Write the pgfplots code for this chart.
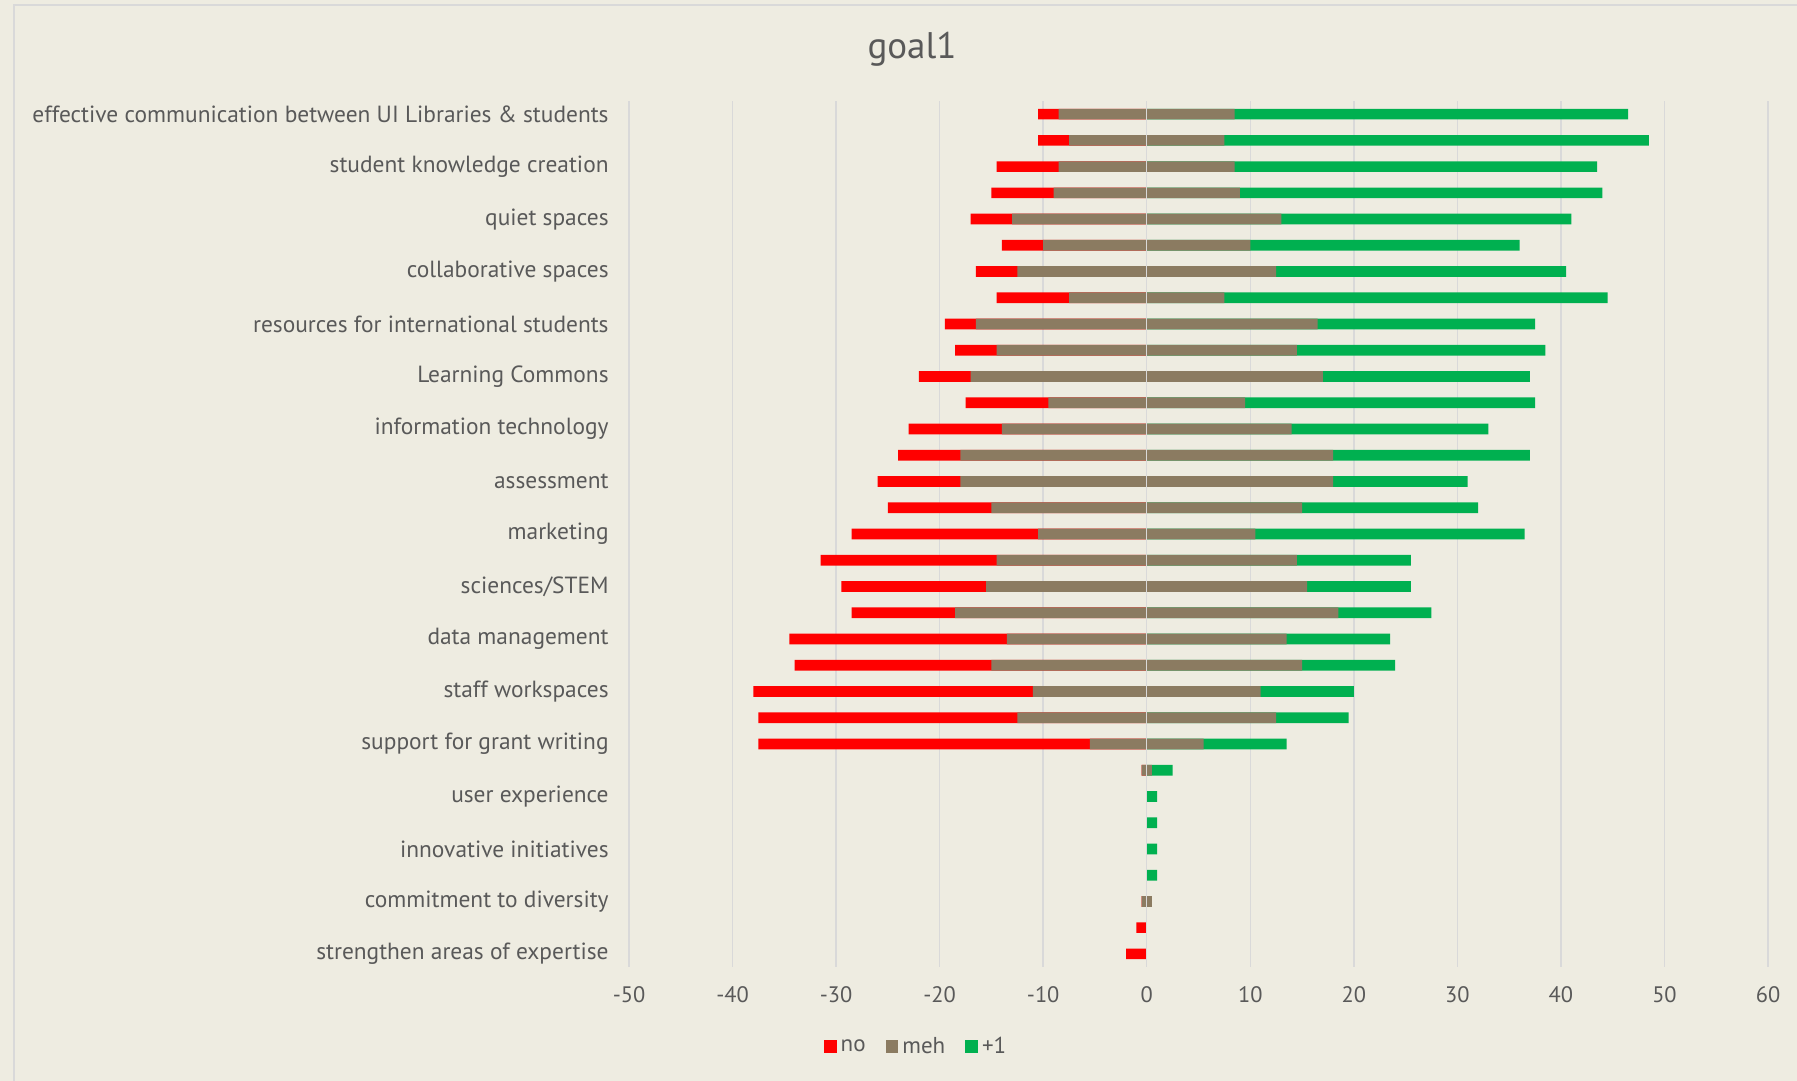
\documentclass[border=0pt]{standalone}
\usepackage{fontspec}
\setmainfont{PT Sans}
\usepackage{pgfplots}
\usepackage{pgfplotstable}
\pgfplotsset{compat=1.18}
\definecolor{bg}{HTML}{EEECE1}
\definecolor{gridc}{HTML}{D9D9D9}
\definecolor{txt}{HTML}{595959}
\definecolor{cno}{HTML}{FF0000}
\definecolor{cmeh}{HTML}{8B7B61}
\definecolor{cplus}{HTML}{00B050}
\pgfplotstableread{
row no meh plus
1 2 17 38
2 3 15 41
3 6 17 35
4 6 18 35
5 4 26 28
6 4 20 26
7 4 25 28
8 7 15 37
9 3 33 21
10 4 29 24
11 5 34 20
12 8 19 28
13 9 28 19
14 6 36 19
15 8 36 13
16 10 30 17
17 18 21 26
18 17 29 11
19 14 31 10
20 10 37 9
21 21 27 10
22 19 30 9
23 27 22 9
24 25 25 7
25 32 11 8
26 0 1 2
27 0 0 1
28 0 0 1
29 0 0 1
30 0 0 1
31 0 1 0
32 1 0 0
33 2 0 0
}\goaldata
\begin{document}
\begin{tikzpicture}
\path[use as bounding box, fill=bg] (0,0) rectangle (898.5bp,540.5bp);
\draw[gridc, line width=0.7bp] (7bp,0) -- (7bp,538bp) -- (900bp,538bp);
\begin{axis}[
  at={(314.5bp,57bp)}, anchor=south west,
  scale only axis, width=569.5bp, height=433bp,
  xbar, bar width=5.35bp, bar shift=0pt,
  xmin=-50, xmax=60, ymin=0.5, ymax=33.5,
  y dir=reverse,
  axis line style={draw=none},
  xmajorgrids, major grid style={gridc, line width=0.7bp},
  xtick={-50,-40,...,60},
  ytick={1,3,...,33},
  yticklabels={effective communication between UI Libraries \& students, student knowledge creation, quiet spaces, collaborative spaces, resources for international students, Learning Commons, information technology, assessment, marketing, sciences/STEM, data management, staff workspaces, support for grant writing, user experience, innovative initiatives, commitment to diversity, strengthen areas of expertise},
  major tick length=0pt,
  tick style={draw=none},
  /pgf/number format/assume math mode=true,
  xticklabel style={font=\fontsize{11.2bp}{13bp}\selectfont, text=txt, anchor=center, yshift=-14bp},
  yticklabel style={font=\fontsize{11.7bp}{13bp}\selectfont, text=txt, anchor=east, inner sep=0pt, xshift=-10bp},
  clip=false,
  legend columns=3,
  legend style={at={(0.2529,-0.092)}, anchor=center, draw=none, fill=none,
    font=\fontsize{11.5bp}{13bp}\selectfont, text=txt,
    /tikz/every even column/.append style={column sep=8bp},
    inner sep=0pt},
  legend image code/.code={\fill[#1] (0bp,-3.2bp) rectangle (6.4bp,3.2bp);},
]
\addplot[fill=cno, draw=none] table[y=row, x expr=-\thisrow{no}-\thisrow{meh}/2] {\goaldata};
\addlegendentry{no}
\addplot[fill=cmeh, draw=none] table[y=row, x expr=-\thisrow{meh}/2] {\goaldata};
\addlegendentry{meh}
\addplot[fill=cplus, draw=none] table[y=row, x expr=\thisrow{meh}/2+\thisrow{plus}] {\goaldata};
\addlegendentry{+1}
\addplot[fill=cmeh, draw=none, forget plot] table[y=row, x expr=\thisrow{meh}/2] {\goaldata};
\draw[gridc, line width=0.7bp] (axis cs:0,0.5) -- (axis cs:0,33.5);
\end{axis}
\node[text=txt, font=\fontsize{18.5bp}{21bp}\selectfont] at (456bp,516bp) {goal1};
\end{tikzpicture}
\end{document}
